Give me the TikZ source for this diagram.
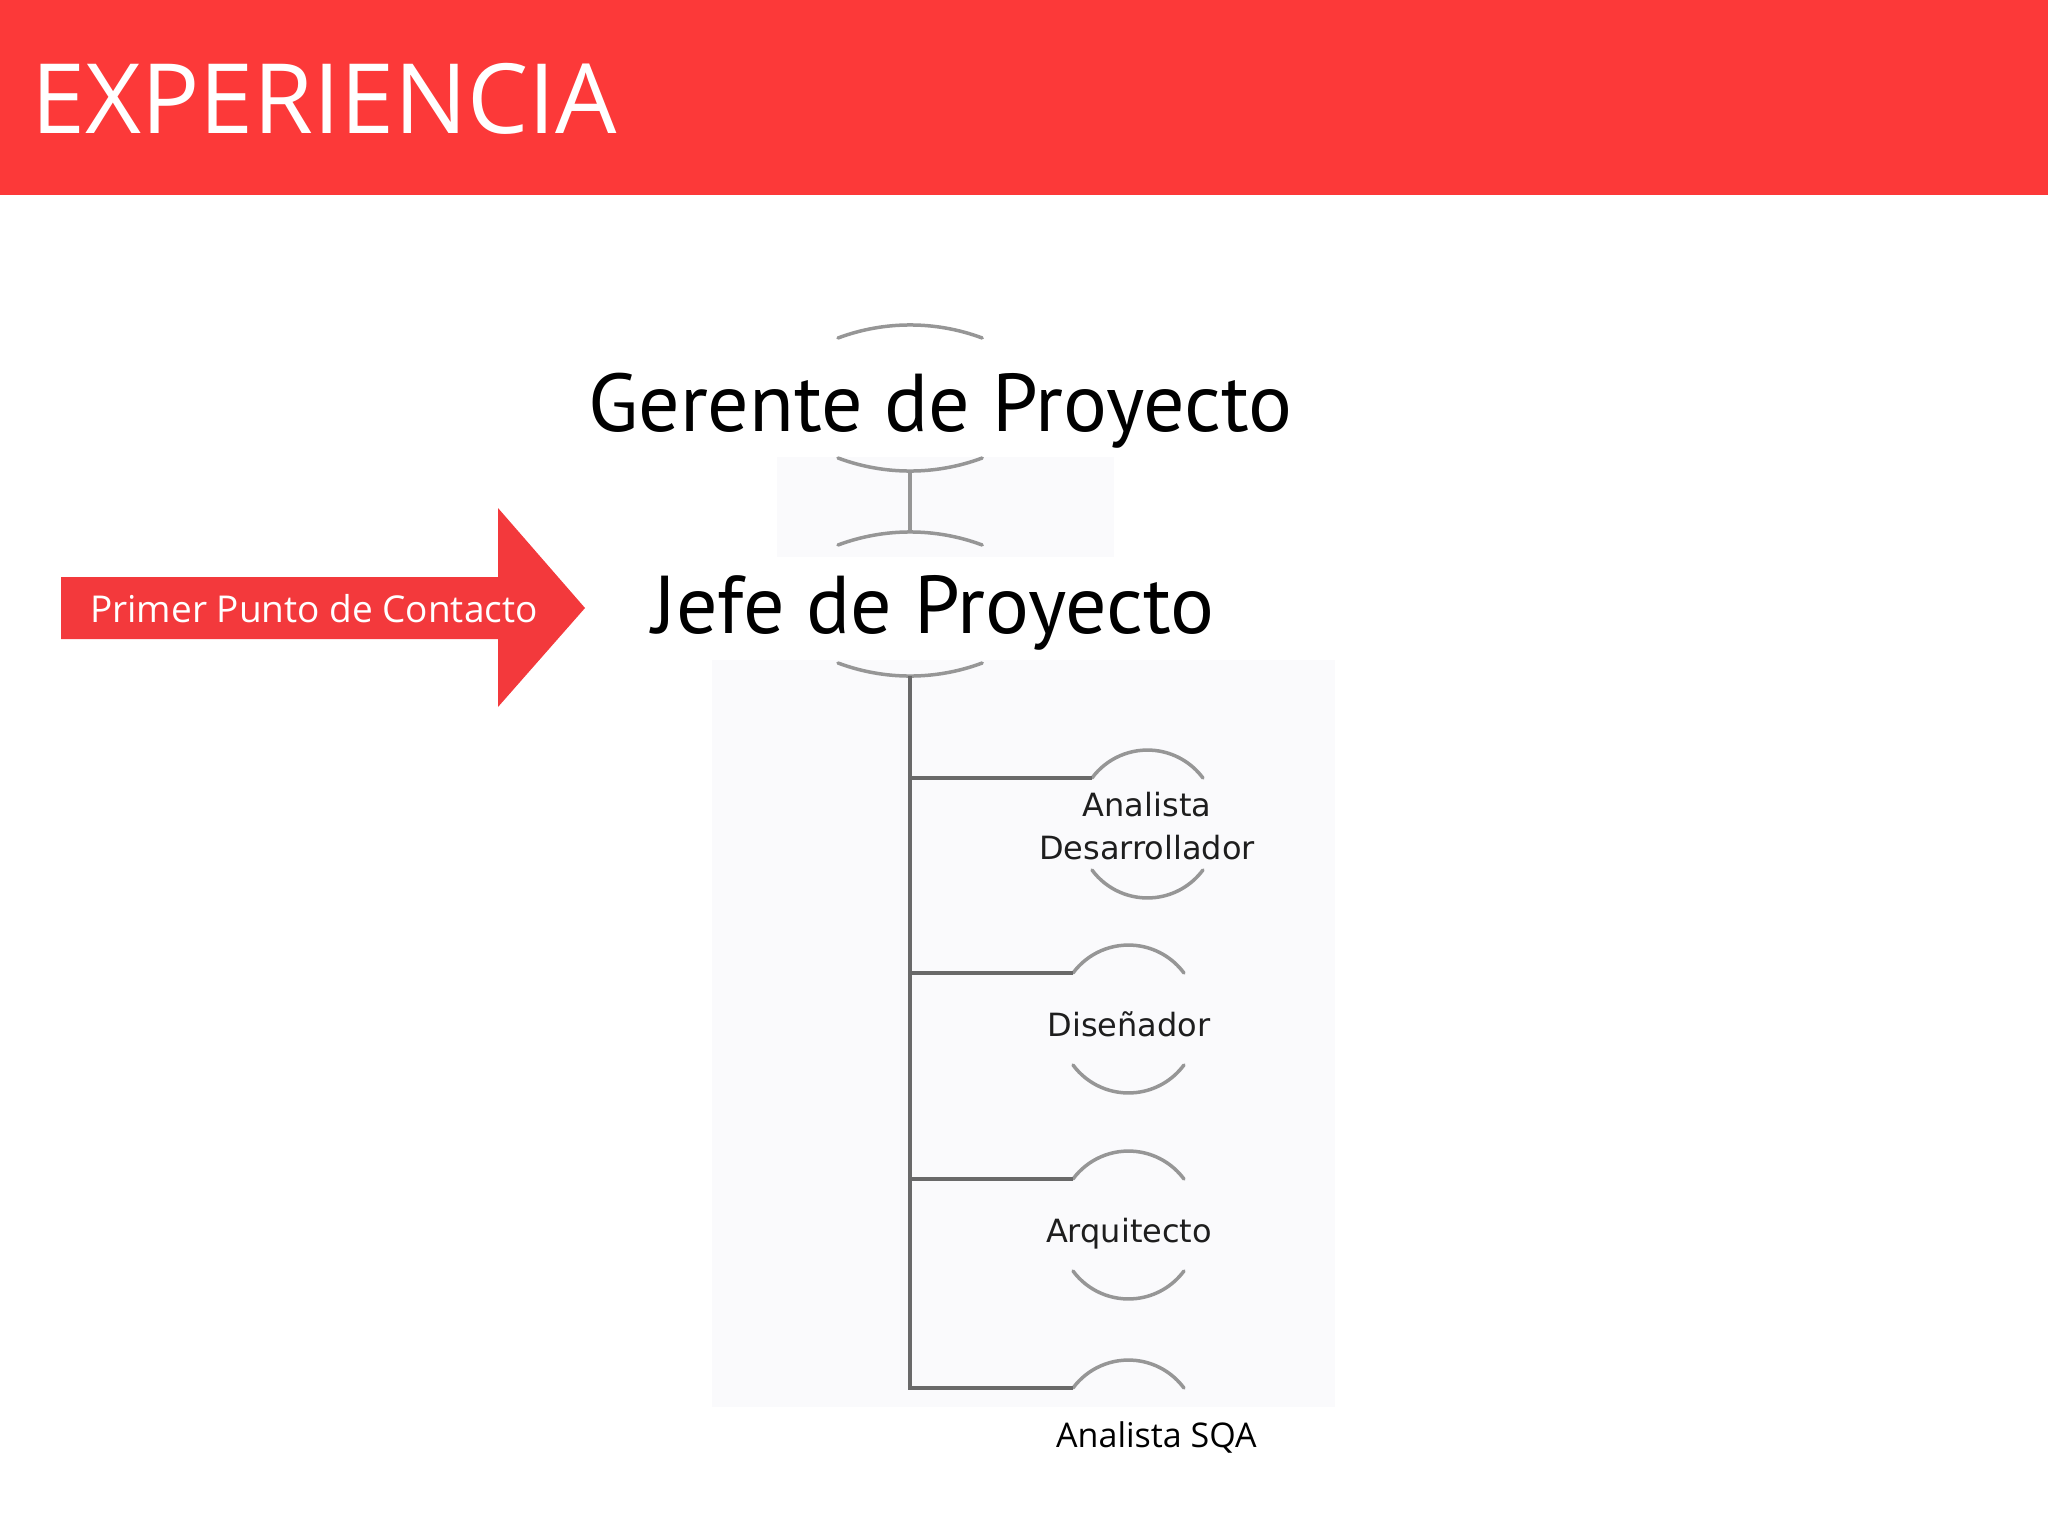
\documentclass[tikz,border=0pt]{standalone}
\usepackage{fontspec}
\newfontfamily\osans{Open Sans}
\newfontfamily\ptsans{PT Sans}
\newfontfamily\dvsans{DejaVu Sans}
\definecolor{hdrred}{RGB}{252,57,57}
\definecolor{arrowred}{RGB}{243,57,60}
\definecolor{bgfaint}{RGB}{250,250,252}
\definecolor{linedark}{RGB}{105,105,105}
\definecolor{arcgray}{RGB}{150,150,150}
\definecolor{labelgray}{RGB}{30,30,30}
\begin{document}
\begin{tikzpicture}[x=1pt,y=-1pt,
  trunkline/.style={draw=linedark, line width=4pt},
  arcline/.style={draw=arcgray, line width=3.5pt, line cap=round},
  bigtop/.pic={\draw[arcline] (-72,0) arc[start angle=110.5, end angle=69.5, radius=205.9pt];},
  bigbot/.pic={\draw[arcline] (-72,0) arc[start angle=249.5, end angle=290.5, radius=205.9pt];},
  smalltop/.pic={\draw[arcline] (-55.5,0) arc[start angle=143.5, end angle=36.5, radius=69pt];},
  smallbot/.pic={\draw[arcline] (-55.5,0) arc[start angle=216.5, end angle=323.5, radius=69pt];},
  smalllabel/.style={font=\dvsans\fontsize{32}{43}\selectfont, text=labelgray, inner sep=0, align=center},
  bigtext/.style={font=\ptsans\fontsize{82}{92}\selectfont, text=black, inner sep=0, anchor=base west}
]
\useasboundingbox (0,0) rectangle (2048,1536);
% header
\fill[hdrred] (0,0) rectangle (2048,195);
\node[anchor=base west, inner sep=0, text=white, font=\osans\fontsize{97}{110}\selectfont] (title) at (31,134) {EXPERIENCIA};
% faint picture background
\fill[bgfaint] (777,457) rectangle (1114,557);
\fill[bgfaint] (712,660) rectangle (1335,1407);
% arrow
\fill[arrowred] (61,577) -- (498,577) -- (498,508) -- (585,608) -- (498,707) -- (498,639) -- (61,639) -- cycle;
\node[anchor=base west, inner sep=0, text=white, font=\osans\fontsize{37}{44}\selectfont] (contact) at (90,622) {Primer Punto de Contacto};
% Gerente
\pic at (910,338) {bigtop};
\pic at (910,458) {bigbot};
\node[bigtext] (ger) at (588,431) {Gerente de Proyecto};
\coordinate (gerB) at (910,471);
% Jefe
\pic at (910,545) {bigtop};
\pic at (910,663) {bigbot};
\node[bigtext] (jef) at (652,633) {Jefe de Proyecto};
\coordinate (jefT) at (910,532);
\coordinate (jefB) at (910,676);
% subordinates
\pic at (1147.5,778) {smalltop};
\pic at (1147.5,870) {smallbot};
\coordinate (adL) at (1092,778);
\node[smalllabel] (ad) at (1147,826) {Analista\\Desarrollador};
\pic at (1128.5,973) {smalltop};
\pic at (1128.5,1065) {smallbot};
\coordinate (disL) at (1073,973);
\node[smalllabel, anchor=base] (dis) at (1129,1036) {Diseñador};
\pic at (1128.5,1179) {smalltop};
\pic at (1128.5,1271) {smallbot};
\coordinate (arqL) at (1073,1179);
\node[smalllabel, anchor=base] (arq) at (1129,1242) {Arquitecto};
\pic at (1128.5,1388) {smalltop};
\coordinate (sqaL) at (1073,1388);
\node[anchor=base west, inner sep=0, text=black, font=\osans\fontsize{34}{40}\selectfont] (sqa) at (1056,1447) {Analista SQA};
% connectors
\draw[draw=arcgray, line width=4pt] (gerB) -- (jefT);
\draw[trunkline] (jefB) |- (adL);
\draw[trunkline] (jefB) |- (disL);
\draw[trunkline] (jefB) |- (arqL);
\draw[trunkline] (jefB) |- (sqaL);
\end{tikzpicture}
\end{document}
